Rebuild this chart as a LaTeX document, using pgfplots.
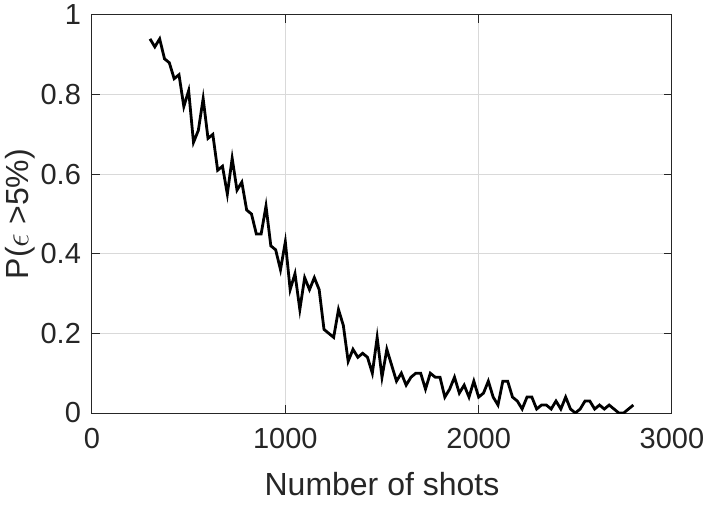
\documentclass[border=0pt]{standalone}
\usepackage{fontspec}
\setmainfont{Liberation Sans}
\usepackage{pgfplots}
\pgfplotsset{compat=1.18}
\definecolor{axgray}{RGB}{38,38,38}

\begin{document}
\begin{tikzpicture}
\begin{axis}[
    name=ax,
    scale only axis,
    width=290pt, height=199pt,
    xmin=0, xmax=3000, ymin=0, ymax=1,
    xtick={0,1000,2000,3000},
    ytick={0,0.2,0.4,0.6,0.8,1},
    yticklabels={0,0.2,0.4,0.6,0.8,1},
    scaled x ticks=false,
    /pgf/number format/assume math mode=true,
    /pgf/number format/1000 sep={},
    tick align=inside,
    major tick length=4pt,
    grid=major,
    major grid style={draw=black!15, line width=0.5pt},
    axis line style={draw=axgray, line width=0.5pt},
    tick style={draw=axgray, line width=0.5pt},
    ticklabel style={font=\fontsize{14.5}{16}\selectfont, text=axgray},
    xlabel={Number of shots},
    ylabel={P($\epsilon$ >5\%)},
    label style={font=\fontsize{16}{19}\selectfont, text=axgray},
    xlabel style={at={(axis description cs:0.5,0)}, anchor=center, yshift=-35.5pt},
    ylabel style={at={(axis description cs:0,0.5)}, anchor=center, xshift=0pt, yshift=36pt},
    xticklabel style={yshift=-4pt},
    yticklabel style={xshift=-2pt},
]
\addplot[black, line width=1.4pt] coordinates {
(300,0.94) (325,0.92) (350,0.94) (375,0.89) (400,0.88) (425,0.84) (450,0.85)
(475,0.77) (500,0.81) (525,0.68) (550,0.71) (575,0.79) (600,0.69) (625,0.70)
(650,0.61) (675,0.62) (700,0.55) (725,0.64) (750,0.56) (775,0.58) (800,0.51)
(825,0.50) (850,0.45) (875,0.45) (900,0.52) (925,0.42) (950,0.41) (975,0.36)
(1000,0.43) (1025,0.31) (1050,0.35) (1075,0.26) (1100,0.34) (1125,0.31)
(1150,0.34) (1175,0.31) (1200,0.21) (1225,0.20) (1250,0.19) (1275,0.26)
(1300,0.22) (1325,0.13) (1350,0.16) (1375,0.14) (1400,0.15) (1425,0.14)
(1450,0.10) (1475,0.19) (1500,0.09) (1525,0.16) (1550,0.12) (1575,0.08)
(1600,0.10) (1625,0.07) (1650,0.09) (1675,0.10) (1700,0.10) (1725,0.06)
(1750,0.10) (1775,0.09) (1800,0.09) (1825,0.04) (1850,0.06) (1875,0.09)
(1900,0.05) (1925,0.07) (1950,0.04) (1975,0.08) (2000,0.04) (2025,0.05)
(2050,0.08) (2075,0.04) (2100,0.02) (2125,0.08) (2150,0.08) (2175,0.04)
(2200,0.03) (2225,0.01) (2250,0.04) (2275,0.04) (2300,0.01) (2325,0.02)
(2350,0.02) (2375,0.01) (2400,0.03) (2425,0.01) (2450,0.04) (2475,0.01)
(2500,0.00) (2525,0.01) (2550,0.03) (2575,0.03) (2600,0.01) (2625,0.02)
(2650,0.01) (2675,0.02) (2700,0.01) (2725,0.00) (2750,0.00) (2775,0.01)
(2800,0.02)
};
\end{axis}
\pgfresetboundingbox
\path ([shift={(-46pt,-45.5pt)}]ax.south west) rectangle ([shift={(17.5pt,7.5pt)}]ax.north east);
\end{tikzpicture}
\end{document}
